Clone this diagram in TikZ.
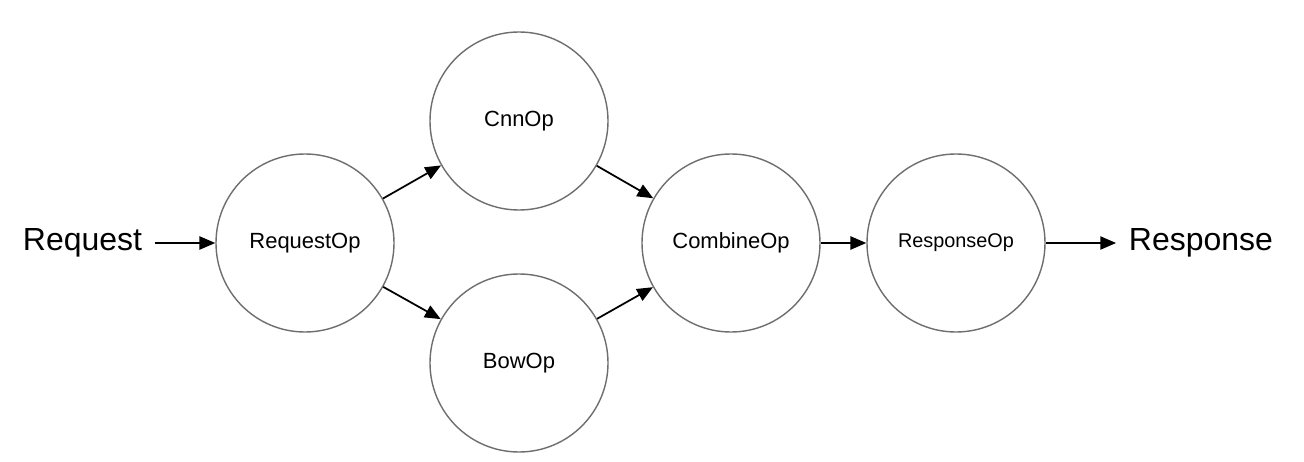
\documentclass[tikz,border=0pt]{standalone}
\usepackage{fontspec}
\setmainfont{Liberation Sans}
\usepackage{xcolor}
\usetikzlibrary{arrows.meta}
\definecolor{opgray}{HTML}{6E6E6E}

\begin{document}
\begin{tikzpicture}[scale=1,
  op/.style={draw=opgray,line width=0.8pt,circle,minimum size=3.56cm,inner sep=0pt,font=\fontsize{12.5}{15}\selectfont},
  io/.style={outer sep=4pt,font=\fontsize{18.2}{22}\selectfont},
  flow/.style={-{Triangle[length=9pt,width=7.5pt]},line width=1pt}]
\useasboundingbox (0,0) rectangle (26.08,-9.24);

\node [io] (req) at (1.65,-4.86) {Request};
\node [op] (reqop) at (6.10,-4.86) {RequestOp};
\node [op] (cnn) at (10.38,-2.42) {CnnOp};
\node [op] (bow) at (10.38,-7.26) {BowOp};
\node [op] (comb) at (14.62,-4.86) {CombineOp};
\node [op,font=\fontsize{11.3}{14}\selectfont] (respop) at (19.12,-4.86) {ResponseOp};
\node [io] (resp) at (24.02,-4.86) {Response};

\draw [flow] (req) -- (reqop);
\draw [flow] (reqop) -- (cnn);
\draw [flow] (reqop) -- (bow);
\draw [flow] (cnn) -- (comb);
\draw [flow] (bow) -- (comb);
\draw [flow] (comb) -- (respop);
\draw [flow] (respop) -- (resp);
\end{tikzpicture}
\end{document}
